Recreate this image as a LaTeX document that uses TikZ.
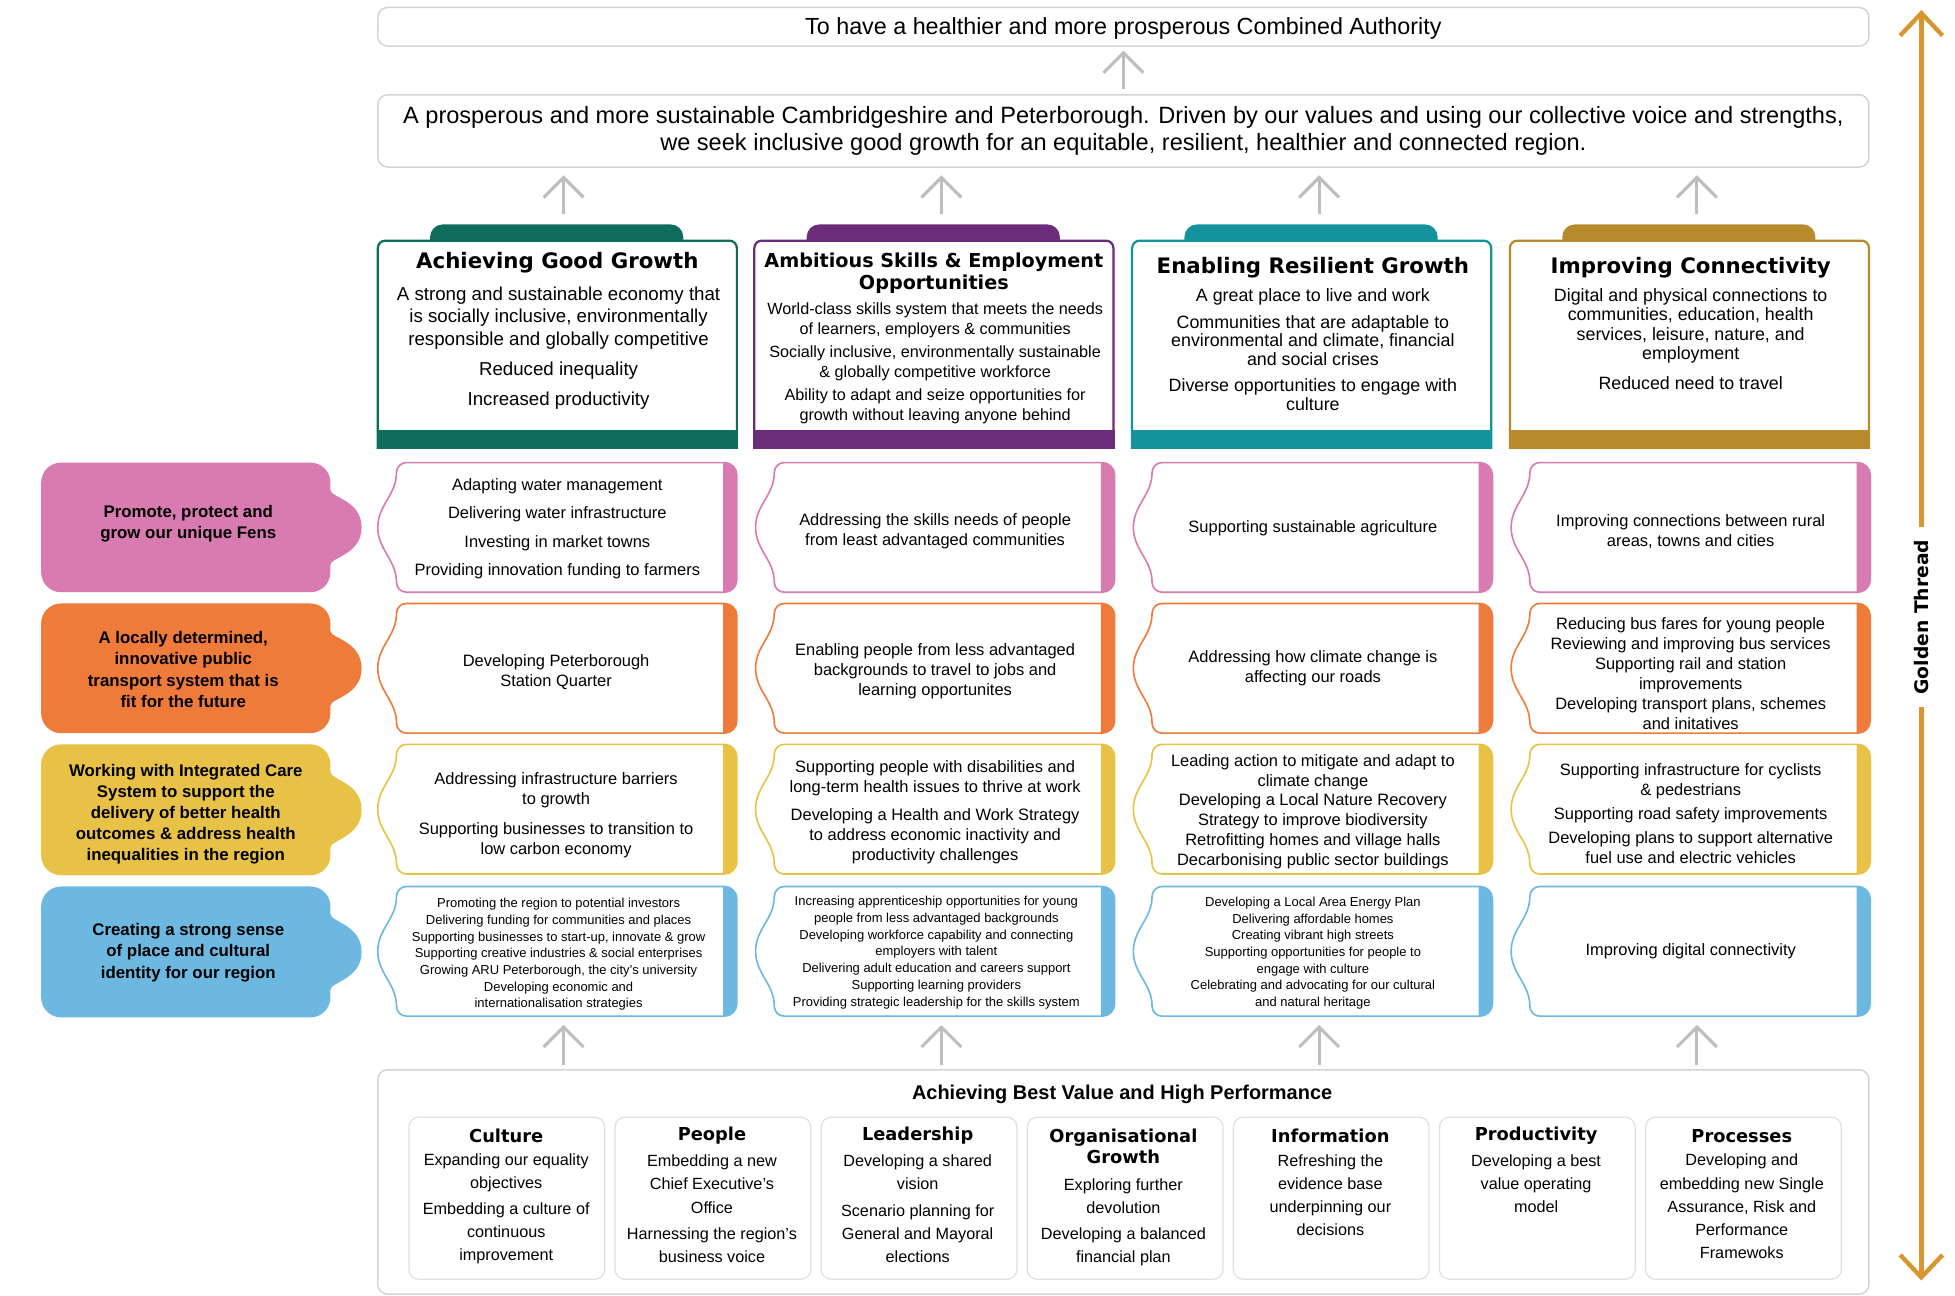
\documentclass[tikz,border=0pt]{standalone}
\usepackage{fontspec}
\setmainfont{Liberation Sans}
\newfontfamily\headfont{DejaVu Sans}
\usetikzlibrary{arrows.meta}

\definecolor{growthgreen}{HTML}{0E6E5B}
\definecolor{skillspurple}{HTML}{6B2C7A}
\definecolor{resilientteal}{HTML}{14939C}
\definecolor{connectgold}{HTML}{B78A2C}
\definecolor{fenspink}{HTML}{D87BB0}
\definecolor{transportorange}{HTML}{EE7B3A}
\definecolor{healthyellow}{HTML}{E8C246}
\definecolor{placeblue}{HTML}{6DB8E0}
\definecolor{threadgold}{HTML}{D9952E}
\definecolor{arrowgrey}{HTML}{BEBEBE}
\definecolor{framegrey}{HTML}{D4D4D4}

\tikzset{
  frame/.style={draw=framegrey, line width=1.2, rounded corners=8, fill=white},
  subframe/.style={draw=framegrey!70, line width=1, rounded corners=8, minimum width=157, minimum height=130},
  uparrow/.style={draw=arrowgrey, line width=2.5, -{Straight Barb[length=16pt,width=32pt]}},
  thread/.style={draw=threadgold, line width=3.5, -{Straight Barb[length=18pt,width=34pt]}},
  pillartitle/.style={align=center, inner sep=0, yshift=-2pt, font=\headfont\bfseries\fontsize{17.1}{18}\selectfont},
  pillarbody/.style={align=center, inner sep=0, yshift=-2pt},
  strandtext/.style={align=center, inner sep=0, yshift=-2pt, font=\bfseries\fontsize{13.5}{17}\selectfont},
  celltext/.style={align=center, inner sep=0, yshift=-2pt, font=\fontsize{13.2}{16}\selectfont},
  smalltext/.style={align=center, inner sep=0, yshift=-1.5pt, font=\fontsize{10.4}{13.4}\selectfont},
  subtitle/.style={align=center, inner sep=0, font=\headfont\bfseries\fontsize{14.3}{17}\selectfont},
  subbody/.style={align=center, inner sep=0, font=\fontsize{13}{18.5}\selectfont},
}

% coloured label on the left, bump on its right side
\newcommand{\strandshape}[3]{%
  \pgfmathsetmacro\midy{(#1+#2)/2}
  \fill[#3] (49,#1) -- (249,#1) arc[start angle=270,end angle=360,radius=16] -- (265,#1+22)
    .. controls (265,\midy-24) and (290,\midy-22) .. (290,\midy)
    .. controls (290,\midy+22) and (265,\midy+24) .. (265,#2-22)
    -- (265,#2-16) arc[start angle=0,end angle=90,radius=16] -- (49,#2)
    arc[start angle=90,end angle=180,radius=16] -- (33,#1+16)
    arc[start angle=180,end angle=270,radius=16] -- cycle;
}
% white cell, brace on the left, coloured band on the right
\newcommand{\cellshape}[3]{%
  \pgfmathsetmacro\cellr{#1+273}
  \pgfmathsetmacro\cellb{#2+104}
  \pgfmathsetmacro\cellm{#2+52}
  \draw[#3, line width=1.3, fill=white] (#1+8,#2) -- (\cellr-10,#2)
    arc[start angle=270,end angle=360,radius=10] -- (\cellr,\cellb-10)
    arc[start angle=0,end angle=90,radius=10] -- (#1+8,\cellb)
    arc[start angle=90,end angle=180,radius=8]
    .. controls (#1,\cellm+26) and (#1-15,\cellm+18) .. (#1-15,\cellm)
    .. controls (#1-15,\cellm-18) and (#1,\cellm-26) .. (#1,#2+8)
    arc[start angle=180,end angle=270,radius=8] -- cycle;
  \fill[#3] (\cellr-11,#2) -- (\cellr-10,#2) arc[start angle=270,end angle=360,radius=10]
    -- (\cellr,\cellb-10) arc[start angle=0,end angle=90,radius=10] -- (\cellr-11,\cellb) -- cycle;
}
% priority card with tab and foot band
\newcommand{\pillarshape}[2]{%
  \fill[#2] (#1+42,194) -- (#1+42,190) arc[start angle=180,end angle=270,radius=10]
    -- (#1+235,180) arc[start angle=270,end angle=360,radius=10] -- (#1+245,194) -- cycle;
  \draw[#2, line width=1.8, fill=white] (#1,360) -- (#1,199) arc[start angle=180,end angle=270,radius=6]
    -- (#1+282,193) arc[start angle=270,end angle=360,radius=6] -- (#1+288,360);
  \fill[#2] (#1-0.9,345) rectangle (#1+288.9,360);
}

\begin{document}
\begin{tikzpicture}[x=1pt,y=-1pt]
  \useasboundingbox (0,0) rectangle (1568,1039);

  %%%%% AMBITION AND VISION %%%%%
  \node[frame, minimum width=1196, minimum height=31, font=\fontsize{18.7}{22}\selectfont] (goal) at (901,21.5)
    {\raisebox{-6.5pt}[0pt][0pt]{To have a healthier and more prosperous Combined Authority}};
  \node[frame, minimum width=1196, minimum height=58, align=center, font=\fontsize{18.9}{22}\selectfont] (vision) at (901,105)
    {A prosperous and more sustainable Cambridgeshire and Peterborough. Driven by our values and using our collective voice and strengths,\\
     we seek inclusive good growth for an equitable, resilient, healthier and connected region.};
  \draw[uparrow, shorten <=4pt, shorten >=3pt] (vision.north) -- (goal.south);

  %%%%% PRIORITIES %%%%%
  \pillarshape{303}{growthgreen}
  \pillarshape{605}{skillspurple}
  \pillarshape{908}{resilientteal}
  \pillarshape{1211}{connectgold}

  \node[pillartitle] (p1) at (447,209) {Achieving Good Growth};
  \node[pillarbody, font=\fontsize{15}{18}\selectfont] (pb1) at (448,277)
    {A strong and sustainable economy that\\is socially inclusive, environmentally\\responsible and globally competitive\\[6pt]Reduced inequality\\[6pt]Increased productivity};
  \node[pillartitle, font=\headfont\bfseries\fontsize{15.4}{18}\selectfont] (p2) at (749,217) {Ambitious Skills \& Employment\\Opportunities};
  \node[pillarbody, font=\fontsize{13}{16}\selectfont] (pb2) at (750,289.5)
    {World-class skills system that meets the needs\\of learners, employers \& communities\\[2.5pt]Socially inclusive, environmentally sustainable\\\& globally competitive workforce\\[2.5pt]Ability to adapt and seize opportunities for\\growth without leaving anyone behind};
  \node[pillartitle] (p3) at (1053,213) {Enabling Resilient Growth};
  \node[pillarbody, font=\fontsize{14.3}{15}\selectfont] (pb3) at (1053,278.5)
    {A great place to live and work\\[6pt]Communities that are adaptable to\\environmental and climate, financial\\and social crises\\[6pt]Diverse opportunities to engage with\\culture};
  \node[pillartitle] (p4) at (1356,213) {Improving Connectivity};
  \node[pillarbody, font=\fontsize{14.3}{15.5}\selectfont] (pb4) at (1356,270)
    {Digital and physical connections to\\communities, education, health\\services, leisure, nature, and\\employment\\[8.5pt]Reduced need to travel};

  \foreach \i/\x in {1/452,2/755,3/1058,4/1361} {
    \coordinate (tab\i) at (\x,180);
    \coordinate (foot\i) at (\x,816);
    \draw[uparrow, shorten <=8pt, shorten >=6pt] (tab\i) -- (tab\i |- vision.south);
  }

  %%%%% STRANDS %%%%%
  \strandshape{371}{475}{fenspink}
  \strandshape{484}{588}{transportorange}
  \strandshape{597}{702}{healthyellow}
  \strandshape{711}{816}{placeblue}

  \node[strandtext] (s1) at (151,418) {Promote, protect and\\grow our unique Fens};
  \node[strandtext] (s2) at (147,535) {A locally determined,\\innovative public\\transport system that is\\fit for the future};
  \node[strandtext] (s3) at (149,651) {Working with Integrated Care\\System to support the\\delivery of better health\\outcomes \& address health\\inequalities in the region};
  \node[strandtext] (s4) at (151,762) {Creating a strong sense\\of place and cultural\\identity for our region};

  \foreach \lx in {318,621,924,1227} {
    \cellshape{\lx}{371}{fenspink}
    \cellshape{\lx}{484}{transportorange}
    \cellshape{\lx}{597}{healthyellow}
    \cellshape{\lx}{711}{placeblue}
  }

  % row 1
  \node[celltext] (c11) at (447,422) {Adapting water management\\[6.7pt]Delivering water infrastructure\\[6.7pt]Investing in market towns\\[6.7pt]Providing innovation funding to farmers};
  \node[celltext] (c12) at (750,424) {Addressing the skills needs of people\\from least advantaged communities};
  \node[celltext] (c13) at (1053,422) {Supporting sustainable agriculture};
  \node[celltext] (c14) at (1356,424) {Improving connections between rural\\areas, towns and cities};
  % row 2
  \node[celltext] (c21) at (446,537) {Developing Peterborough\\Station Quarter};
  \node[celltext] (c22) at (750,536) {Enabling people from less advantaged\\backgrounds to travel to jobs and\\learning opportunites};
  \node[celltext] (c23) at (1053,534) {Addressing how climate change is\\affecting our roads};
  \node[celltext] (c24) at (1356,538) {Reducing bus fares for young people\\Reviewing and improving bus services\\Supporting rail and station\\improvements\\Developing transport plans, schemes\\and initatives};
  % row 3
  \node[celltext] (c31) at (446,652) {Addressing infrastructure barriers\\to growth\\[8pt]Supporting businesses to transition to\\low carbon economy};
  \node[celltext] (c32) at (750,649.5) {Supporting people with disabilities and\\long-term health issues to thrive at work\\[6pt]Developing a Health and Work Strategy\\to address economic inactivity and\\productivity challenges};
  \node[celltext] (c33) at (1053,649) {Leading action to mitigate and adapt to\\climate change\\Developing a Local Nature Recovery\\Strategy to improve biodiversity\\Retrofitting homes and village halls\\Decarbonising public sector buildings};
  \node[celltext] (c34) at (1356,650.5) {Supporting infrastructure for cyclists\\\& pedestrians\\[3.5pt]Supporting road safety improvements\\[3.5pt]Developing plans to support alternative\\fuel use and electric vehicles};
  % row 4
  \node[smalltext] (c41) at (448,764) {Promoting the region to potential investors\\Delivering funding for communities and places\\Supporting businesses to start-up, innovate \& grow\\Supporting creative industries \& social enterprises\\Growing ARU Peterborough, the city's university\\Developing economic and\\internationalisation strategies};
  \node[smalltext] (c42) at (751,762.5) {Increasing apprenticeship opportunities for young\\people from less advantaged backgrounds\\Developing workforce capability and connecting\\employers with talent\\Delivering adult education and careers support\\Supporting learning providers\\Providing strategic leadership for the skills system};
  \node[smalltext] (c43) at (1053,763) {Developing a Local Area Energy Plan\\Delivering affordable homes\\Creating vibrant high streets\\Supporting opportunities for people to\\engage with culture\\Celebrating and advocating for our cultural\\and natural heritage};
  \node[celltext] (c44) at (1356,761) {Improving digital connectivity};

  %%%%% BEST VALUE %%%%%
  \node[frame, minimum width=1196, minimum height=180] (bv) at (901,948) {};
  \node[font=\bfseries\fontsize{16}{18}\selectfont, inner sep=0, yshift=-1.5pt] (bvt) at (900,876) {Achieving Best Value and High Performance};
  \foreach \i in {0,...,6}
    \node[subframe] (sf\i) at (406.5+165.3*\i,961) {};

  \node[subtitle] (bt1) at (406,911) {Culture};
  \node[subbody] (bb1) at (406,969.5) {Expanding our equality\\objectives\\[2.5pt]Embedding a culture of\\continuous\\improvement};
  \node[subtitle] (bt2) at (571,911) {People};
  \node[subbody] (bb2) at (571,969.5) {Embedding a new\\Chief Executive's\\Office\\[2.5pt]Harnessing the region's\\business voice};
  \node[subtitle] (bt3) at (736,911) {Leadership};
  \node[subbody] (bb3) at (736,969.5) {Developing a shared\\vision\\[2.5pt]Scenario planning for\\General and Mayoral\\elections};
  \node[subtitle] (bt4) at (901,919.5) {Organisational\\Growth};
  \node[subbody] (bb4) at (901,980.5) {Exploring further\\devolution\\[2.5pt]Developing a balanced\\financial plan};
  \node[subtitle] (bt5) at (1067,911) {Information};
  \node[subbody] (bb5) at (1067,958.5) {Refreshing the\\evidence base\\underpinning our\\decisions};
  \node[subtitle] (bt6) at (1232,911) {Productivity};
  \node[subbody] (bb6) at (1232,949.5) {Developing a best\\value operating\\model};
  \node[subtitle] (bt7) at (1397,911) {Processes};
  \node[subbody] (bb7) at (1397,967.5) {Developing and\\embedding new Single\\Assurance, Risk and\\Performance\\Framewoks};

  \foreach \i in {1,...,4}
    \draw[uparrow, shorten <=3pt, shorten >=6pt] (bv.north -| foot\i) -- (foot\i);

  %%%%% GOLDEN THREAD %%%%%
  \node[rotate=90, inner xsep=10pt, inner ysep=0, font=\headfont\bfseries\fontsize{15}{18}\selectfont] (gt) at (1541,495) {Golden Thread};
  \coordinate (gtop) at (1541,8);
  \coordinate (gbot) at (1541,1027);
  \draw[thread] (gt.east) -- (gtop);
  \draw[thread] (gt.west) -- (gbot);
\end{tikzpicture}
\end{document}
